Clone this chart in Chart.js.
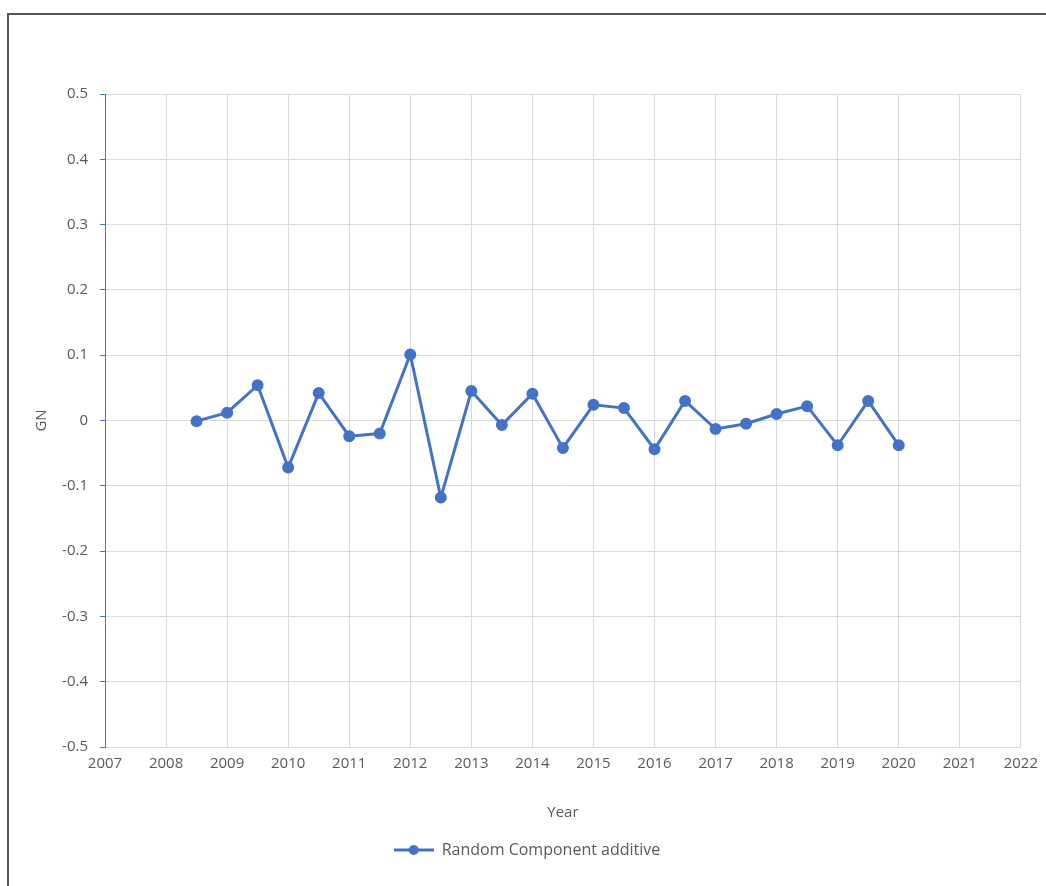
<!DOCTYPE html>
<html>
<head>
<meta charset="utf-8">
<script src="https://cdn.jsdelivr.net/npm/chart.js@4"></script>
<style>
  html, body { margin: 0; padding: 0; background: #fff; }
  #wrap { position: absolute; left: 0; top: 0; width: 1046px; height: 886px; }
  #frame { position: absolute; left: 7px; top: 13px; width: 1039px; height: 873px;
           border-top: 2px solid #555; border-left: 2px solid #555; box-sizing: border-box; pointer-events: none; }
</style>
</head>
<body>
<div id="wrap"><canvas id="chart" width="1046" height="886"></canvas></div>
<div id="frame"></div>
<script>
// random component (additive decomposition), half-year steps
const years = [2008.5, 2009, 2009.5, 2010, 2010.5, 2011, 2011.5, 2012, 2012.5, 2013, 2013.5, 2014,
               2014.5, 2015, 2015.5, 2016, 2016.5, 2017, 2017.5, 2018, 2018.5, 2019, 2019.5, 2020];
const randomComponent = [-0.001, 0.012, 0.054, -0.072, 0.042, -0.024, -0.020, 0.101, -0.118, 0.045, -0.007, 0.041,
                         -0.042, 0.024, 0.019, -0.044, 0.030, -0.013, -0.005, 0.010, 0.022, -0.038, 0.030, -0.038];
const xMin = 2007, xMax = 2022;
const yMin = -0.5, yMax = 0.5;

const blue = '#4472C4';
const textGrey = '#595959';
const gridGrey = '#D9D9D9';
const fontFamily = "'Open Sans', 'Noto Sans', sans-serif";

// legend swatch: line with a dot, like excel
const legendIcon = document.createElement('canvas');
legendIcon.width = 40;
legendIcon.height = 12;
(() => {
    const c = legendIcon.getContext('2d');
    c.strokeStyle = blue;
    c.lineWidth = 3;
    c.beginPath();
    c.moveTo(0, 6);
    c.lineTo(40, 6);
    c.stroke();
    c.fillStyle = blue;
    c.beginPath();
    c.arc(20, 6, 5, 0, Math.PI * 2);
    c.fill();
})();

const ctx = document.getElementById('chart').getContext('2d');
new Chart(ctx, {
    type: 'line',
    data: {
        datasets: [{
            label: 'Random Component additive',
            data: years.map((y, i) => ({ x: y, y: randomComponent[i] })),
            borderColor: blue,
            backgroundColor: blue,
            borderWidth: 3,
            pointRadius: 4.5,
            pointHoverRadius: 5,
            tension: 0
        }]
    },
    options: {
        responsive: false,
        animation: false,
        layout: { padding: { left: 33, right: 25, top: 94, bottom: 18 } },
        scales: {
            x: {
                type: 'linear',
                min: xMin,
                max: xMax,
                ticks: {
                    stepSize: 1,
                    color: textGrey,
                    font: { family: fontFamily, size: 15 },
                    padding: 8,
                    maxRotation: 0,
                    callback: v => String(v)
                },
                grid: { color: gridGrey, tickLength: 0, lineWidth: 1 },
                border: { color: gridGrey, width: 1 },
                title: {
                    display: true,
                    text: 'Year',
                    color: textGrey,
                    font: { family: fontFamily, size: 15 },
                    padding: { top: 20, bottom: 10 }
                },
                afterFit: scale => { scale.height = 85; }
            },
            y: {
                min: yMin,
                max: yMax,
                ticks: {
                    stepSize: 0.1,
                    color: textGrey,
                    font: { family: fontFamily, size: 15 },
                    padding: 12,
                    callback: v => String(Number(v.toFixed(1)))
                },
                grid: { color: gridGrey, tickLength: 5, tickColor: blue, tickWidth: 1 },
                border: { color: blue, width: 1 },
                title: {
                    display: true,
                    text: 'GN',
                    color: textGrey,
                    font: { family: fontFamily, size: 15 },
                    padding: 0
                },
                afterFit: scale => { scale.width = 72; }
            }
        },
        plugins: {
            legend: {
                position: 'bottom',
                labels: {
                    usePointStyle: true,
                    pointStyle: legendIcon,
                    pointStyleWidth: 40,
                    color: textGrey,
                    font: { family: fontFamily, size: 16 },
                    padding: 10
                }
            },
            tooltip: { enabled: false }
        }
    }
});
</script>
</body>
</html>
